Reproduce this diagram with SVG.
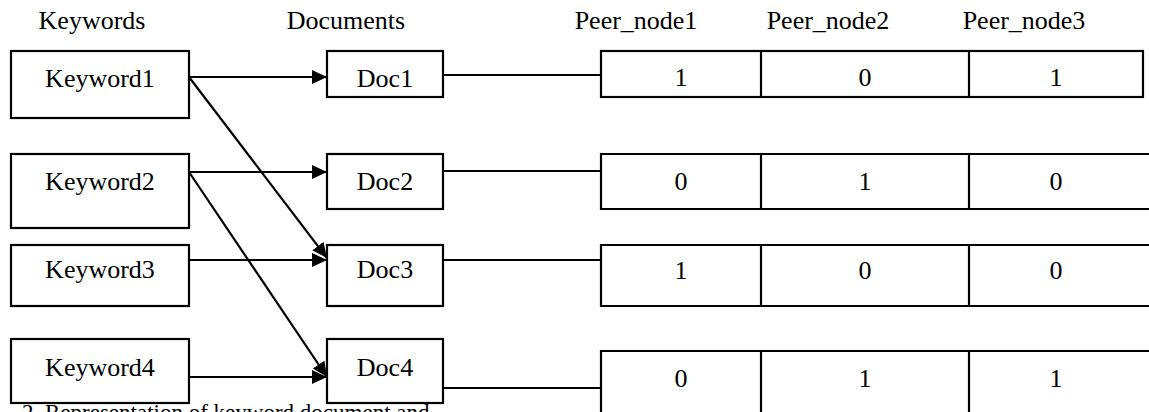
<svg xmlns="http://www.w3.org/2000/svg" width="1149" height="412" viewBox="0 0 1149 412">
<style>
.t{font-family:'Liberation Serif','Times New Roman','DejaVu Serif',serif;font-size:26px;fill:#000;text-anchor:middle}
.box{fill:#fff;stroke:#000;stroke-width:2.2}
.ln{stroke:#000;stroke-width:2.2;fill:none}
.cap{text-anchor:start;font-size:23px}
</style>
<defs>
<marker id="ah" markerUnits="userSpaceOnUse" markerWidth="17" markerHeight="15" refX="15" refY="7" orient="auto">
<path d="M0,0 L15,7 L0,14 Z" fill="#000"/>
</marker>
</defs>
<rect width="1149" height="412" fill="#fff"/>
<g id="headers" class="t" font-family="Liberation Serif, Times New Roman, serif">
<text x="92" y="29">Keywords</text>
<text x="346" y="29">Documents</text>
<text x="636" y="29">Peer_node1</text>
<text x="828" y="29">Peer_node2</text>
<text x="1024" y="29">Peer_node3</text>
</g>
<g id="connectors">
<line class="ln" x1="189" y1="77" x2="327" y2="77" stroke-width="1.6" marker-end="url(#ah)"/>
<line class="ln" x1="257" y1="77" x2="313" y2="77" stroke-width="2.6"/>
<line class="ln" x1="189" y1="77" x2="327" y2="258" marker-end="url(#ah)"/>
<line class="ln" x1="189" y1="172" x2="327" y2="172" marker-end="url(#ah)"/>
<line class="ln" x1="189" y1="172" x2="327" y2="377" marker-end="url(#ah)"/>
<line class="ln" x1="189" y1="260" x2="327" y2="260" marker-end="url(#ah)"/>
<line class="ln" x1="189" y1="377" x2="327" y2="377" marker-end="url(#ah)"/>
<line class="ln" x1="443" y1="75" x2="601" y2="75"/>
<line class="ln" x1="443" y1="171" x2="601" y2="171"/>
<line class="ln" x1="443" y1="260" x2="601" y2="260"/>
<line class="ln" x1="443" y1="388" x2="601" y2="388"/>
</g>
<g class="t" font-family="Liberation Serif, Times New Roman, serif">
<g id="keyword1"><rect class="box" x="11" y="51" width="178" height="67"/><text x="100" y="87">Keyword1</text></g>
<g id="keyword2"><rect class="box" x="11" y="154" width="178" height="74"/><text x="100" y="190">Keyword2</text></g>
<g id="keyword3"><rect class="box" x="11" y="245" width="178" height="61"/><text x="100" y="278">Keyword3</text></g>
<g id="keyword4"><rect class="box" x="11" y="339" width="178" height="64"/><text x="100" y="376">Keyword4</text></g>
<g id="doc1"><rect class="box" x="327" y="51" width="116" height="46"/><text x="385" y="87">Doc1</text></g>
<g id="doc2"><rect class="box" x="327" y="154" width="116" height="55"/><text x="385" y="190">Doc2</text></g>
<g id="doc3"><rect class="box" x="327" y="245" width="116" height="61"/><text x="385" y="278">Doc3</text></g>
<g id="doc4"><rect class="box" x="327" y="339" width="116" height="64"/><text x="385" y="376">Doc4</text></g>
<g id="row1">
<rect class="box" x="601" y="51" width="542" height="46"/>
<line class="ln" x1="761" y1="51" x2="761" y2="97"/>
<line class="ln" x1="969" y1="51" x2="969" y2="97"/>
<text x="681" y="86">1</text><text x="865" y="86">0</text><text x="1056" y="86">1</text>
</g>
<g id="row2">
<path class="ln" d="M1150,154 H601 V209 H1150"/>
<line class="ln" x1="761" y1="154" x2="761" y2="209"/>
<line class="ln" x1="969" y1="154" x2="969" y2="209"/>
<text x="681" y="190">0</text><text x="865" y="190">1</text><text x="1056" y="190">0</text>
</g>
<g id="row3">
<path class="ln" d="M1150,245 H601 V306 H1150"/>
<line class="ln" x1="761" y1="245" x2="761" y2="306"/>
<line class="ln" x1="969" y1="245" x2="969" y2="306"/>
<text x="681" y="279">1</text><text x="865" y="279">0</text><text x="1056" y="279">0</text>
</g>
<g id="row4">
<path class="ln" d="M1150,351 H601 V415"/>
<line class="ln" x1="761" y1="351" x2="761" y2="415"/>
<line class="ln" x1="969" y1="351" x2="969" y2="415"/>
<text x="681" y="387">0</text><text x="865" y="387">1</text><text x="1056" y="387">1</text>
</g>
<text class="cap" x="22" y="420">2. Representation of keyword document and</text>
</g>
</svg>
